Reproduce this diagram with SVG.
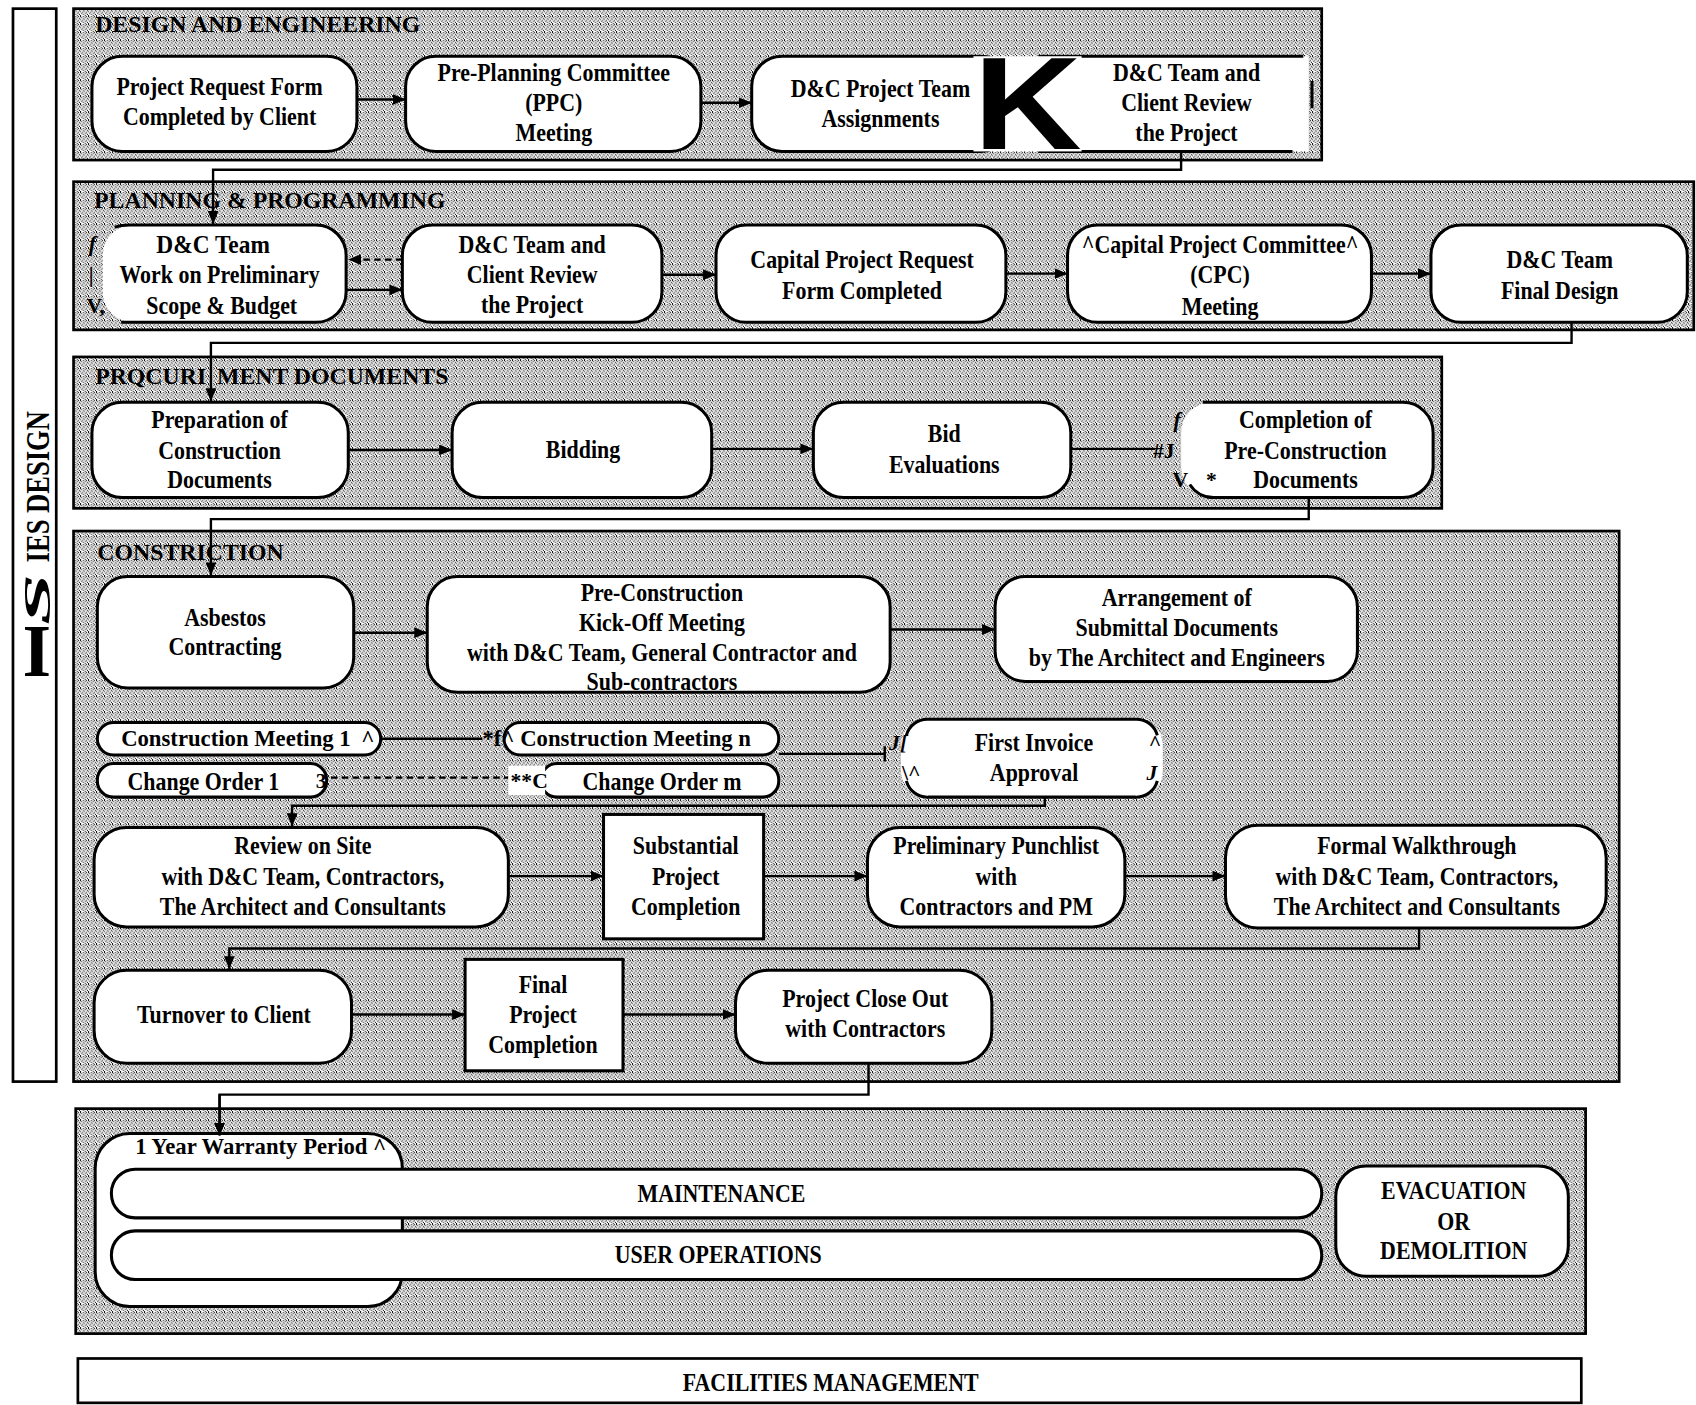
<svg xmlns="http://www.w3.org/2000/svg" width="1696" height="1405" viewBox="0 0 1696 1405">
<defs>
<pattern id="stip" width="8" height="8" patternUnits="userSpaceOnUse" patternTransform="scale(0.92456)">
<rect width="8" height="8" fill="#fff"/>
<path fill="#000" d="M0,0h1v1h-1z M3,0h1v1h-1z M6,0h1v1h-1z M1,1h1v1h-1z M5,1h1v1h-1z M3,2h1v1h-1z M7,2h1v1h-1z M0,3h1v1h-1z M4,3h1v1h-1z M2,4h1v1h-1z M6,4h1v1h-1z M1,5h1v1h-1z M5,5h1v1h-1z M3,6h1v1h-1z M7,6h1v1h-1z M0,7h1v1h-1z M5,7h1v1h-1z"/>
</pattern>
<marker id="ah" markerUnits="userSpaceOnUse" markerWidth="13" markerHeight="10" refX="12" refY="5" orient="auto">
<path d="M0,0 L12,5 L0,10 z" fill="#000"/>
</marker>
<style>
.sec{fill:url(#stip);stroke:#000;stroke-width:2.5}
.nd{fill:#fff;stroke:#000;stroke-width:2.8}
.wf{fill:#fff;stroke:none}
.ol{fill:none;stroke:#000;stroke-width:2.8}
.t{font-family:"Liberation Serif","Times New Roman",serif;font-weight:bold;font-size:22.5px;text-anchor:middle;fill:#000;transform-box:fill-box;transform-origin:center;transform:scaleX(0.9)}
.ti{font-family:"Liberation Serif","Times New Roman",serif;font-weight:bold;font-size:20px;fill:#000}
.st{font-family:"Liberation Serif","Times New Roman",serif;font-weight:bold;font-size:22px;fill:#000}
.a{font-family:"Liberation Serif","Times New Roman",serif;font-weight:bold;font-style:italic;font-size:20px;fill:#000}
.c{fill:none;stroke:#000;stroke-width:2.2}
.ca{fill:none;stroke:#000;stroke-width:2.2;marker-end:url(#ah)}
.cd{fill:none;stroke:#000;stroke-width:2.2;stroke-dasharray:6 4}
</style>
</defs>
<rect width="1696" height="1405" fill="#fff"/>
<g transform="scale(1.0816)">

<g id="sidebar">
<rect x="12" y="8" width="40" height="992" fill="#fff" stroke="#000" stroke-width="2.5"/>
<text class="ti" transform="translate(45,520) rotate(-90)" style="font-size:32px" textLength="140" lengthAdjust="spacingAndGlyphs">IES DESIGN</text>
<text class="ti" transform="translate(46,578) rotate(-90) scale(2.4,1)" style="font-size:36px;font-style:italic">S</text>
<text class="ti" x="34" y="625" style="font-size:68px;text-anchor:middle">I</text>
</g>

<g id="sec-design">
<rect class="sec" x="68" y="8" width="1154" height="140"/>
<text class="st" x="88" y="30">DESIGN AND ENGINEERING</text>
</g>
<g id="sec-planning">
<rect class="sec" x="68" y="168" width="1498" height="137"/>
<text class="st" x="87" y="192">PLANNING &amp; PROGRAMMING</text>
</g>
<g id="sec-procurement">
<rect class="sec" x="68" y="330" width="1265" height="140"/>
<text class="st" x="88" y="355">PRQCURI<tspan dx="10">MENT DOCUMENTS</tspan></text>
</g>
<g id="sec-construction">
<rect class="sec" x="68" y="491" width="1429" height="509"/>
<text class="st" x="90" y="518">CONSTRICTION</text>
</g>
<g id="sec-operations">
<rect class="sec" x="70" y="1025" width="1396" height="208"/>
</g>

<g id="connectors">
<path class="ca" d="M1092,140 V157 H197 V207"/>
<path class="ca" d="M1453,298 V317 H195 V371"/>
<path class="ca" d="M1210,460 V480 H195 V532"/>
<path class="ca" d="M966,737 V745 H270 V764"/>
<path class="ca" d="M1312,858 V877 H212 V896"/>
<path class="ca" d="M803,983 V1012 H203 V1050"/>
<path class="ca" d="M330,92 H375"/>
<path class="ca" d="M648,95 H695"/>
<path class="cd" d="M372,240 H322" marker-end="url(#ah)"/>
<path class="ca" d="M320,268 H372"/>
<path class="ca" d="M612,254 H662"/>
<path class="ca" d="M930,253 H987"/>
<path class="ca" d="M1268,253 H1323"/>
<path class="ca" d="M322,416 H418"/>
<path class="ca" d="M658,415 H752"/>
<path class="c" d="M990,415 H1068"/>
<path class="ca" d="M327,585 H395"/>
<path class="ca" d="M823,582 H920"/>
<path class="c" d="M352,683 H446" stroke-width="3"/>
<path class="cd" d="M306,719 H470"/>
<path class="c" d="M720,697 H818 M818,690 V704"/>
<path class="ca" d="M470,810 H558"/>
<path class="ca" d="M706,810 H802"/>
<path class="ca" d="M1040,810 H1133"/>
<path class="ca" d="M325,938 H430"/>
<path class="ca" d="M576,938 H680"/>
</g>

<g id="n-project-request">
<rect class="nd" x="85" y="52" width="245" height="88" rx="28"/>
<text class="t" x="203" y="88">Project Request Form</text>
<text class="t" x="203" y="116">Completed by Client</text>
</g>
<g id="n-ppc">
<rect class="nd" x="375" y="52" width="273" height="88" rx="28"/>
<text class="t" x="512" y="75">Pre-Planning Committee</text>
<text class="t" x="512" y="103">(PPC)</text>
<text class="t" x="512" y="130">Meeting</text>
</g>
<g id="n-team-assign">
<rect class="nd" x="695" y="52" width="240" height="88" rx="28"/>
<text class="t" x="814" y="90">D&amp;C Project Team</text>
<text class="t" x="814" y="117">Assignments</text>
</g>
<g id="n-client-review-1">
<rect class="wf" x="960" y="52" width="250" height="88"/>
<path class="ol" d="M960,52 H1205 M960,140 H1195 M1213,75 V100"/>
<text class="t" x="1097" y="75">D&amp;C Team and</text>
<text class="t" x="1097" y="103">Client Review</text>
<text class="t" x="1097" y="130">the Project</text>
</g>
<g id="k-mark">
<rect class="wf" x="900" y="52" width="100" height="88"/>
<text x="900" y="138" font-family="Liberation Sans, Arial, sans-serif" font-weight="bold" font-size="122" textLength="100" lengthAdjust="spacingAndGlyphs">K</text>
</g>

<g id="n-prelim-scope">
<rect class="wf" x="95" y="208" width="225" height="90" rx="28"/>
<path class="ol" d="M106,210 Q112,208 120,208 H292 A28,28 0 0 1 320,236 V270 A28,28 0 0 1 292,298 H112"/>
<text class="a" x="82" y="232">f</text>
<text class="ti" x="82" y="261">|</text>
<text class="ti" x="80" y="289">V,</text>
<text class="t" x="197" y="234" style="font-size:24px">D&amp;C Team</text>
<text class="t" x="203" y="262">Work on Preliminary</text>
<text class="t" x="205" y="290">Scope &amp; Budget</text>
</g>
<g id="n-client-review-2">
<rect class="nd" x="372" y="208" width="240" height="90" rx="28"/>
<text class="t" x="492" y="234">D&amp;C Team and</text>
<text class="t" x="492" y="262">Client Review</text>
<text class="t" x="492" y="289">the Project</text>
</g>
<g id="n-cpr-form">
<rect class="nd" x="662" y="208" width="268" height="90" rx="28"/>
<text class="t" x="797" y="248">Capital Project Request</text>
<text class="t" x="797" y="276">Form Completed</text>
</g>
<g id="n-cpc">
<rect class="nd" x="987" y="208" width="281" height="90" rx="28"/>
<text class="t" x="1128" y="234">^Capital Project Committee^</text>
<text class="t" x="1128" y="262">(CPC)</text>
<text class="t" x="1128" y="291">Meeting</text>
</g>
<g id="n-final-design">
<rect class="nd" x="1323" y="208" width="237" height="90" rx="28"/>
<text class="t" x="1442" y="248">D&amp;C Team</text>
<text class="t" x="1442" y="276">Final Design</text>
</g>

<g id="n-prep-docs">
<rect class="nd" x="85" y="372" width="237" height="88" rx="28"/>
<text class="t" x="203" y="396">Preparation of</text>
<text class="t" x="203" y="424">Construction</text>
<text class="t" x="203" y="451">Documents</text>
</g>
<g id="n-bidding">
<rect class="nd" x="418" y="372" width="240" height="88" rx="28"/>
<text class="t" x="539" y="423">Bidding</text>
</g>
<g id="n-bid-eval">
<rect class="nd" x="752" y="372" width="238" height="88" rx="28"/>
<text class="t" x="873" y="409">Bid</text>
<text class="t" x="873" y="437">Evaluations</text>
</g>
<g id="n-completion-precon">
<rect class="wf" x="1092" y="372" width="233" height="88" rx="28"/>
<path class="ol" d="M1112,372 H1297 A28,28 0 0 1 1325,400 V432 A28,28 0 0 1 1297,460 H1122 A26,26 0 0 1 1100,448"/>
<text class="a" x="1085" y="395">f</text>
<text class="ti" x="1066" y="423">#J</text>
<text class="ti" x="1084" y="450">V</text>
<text class="ti" x="1115" y="450">*</text>
<text class="t" x="1207" y="396">Completion of</text>
<text class="t" x="1207" y="424">Pre-Construction</text>
<text class="t" x="1207" y="451">Documents</text>
</g>

<g id="n-asbestos">
<rect class="nd" x="90" y="533" width="237" height="103" rx="28"/>
<text class="t" x="208" y="579">Asbestos</text>
<text class="t" x="208" y="606">Contracting</text>
</g>
<g id="n-kickoff">
<rect class="nd" x="395" y="533" width="428" height="107" rx="28"/>
<text class="t" x="612" y="556">Pre-Construction</text>
<text class="t" x="612" y="583">Kick-Off Meeting</text>
<text class="t" x="612" y="611">with D&amp;C Team, General Contractor and</text>
<text class="t" x="612" y="638">Sub-contractors</text>
</g>
<g id="n-submittal">
<rect class="nd" x="920" y="533" width="335" height="97" rx="28"/>
<text class="t" x="1088" y="560">Arrangement of</text>
<text class="t" x="1088" y="588">Submittal Documents</text>
<text class="t" x="1088" y="616">by The Architect and Engineers</text>
</g>
<g id="n-meeting-1">
<rect class="nd" x="90" y="668" width="262" height="30" rx="15"/>
<text class="ti" x="112" y="690" style="font-size:21px">Construction Meeting 1<tspan x="334">^</tspan></text>
</g>
<g id="n-meeting-n">
<rect class="nd" x="466" y="668" width="254" height="30" rx="15"/>
<text class="ti" x="446" y="690" style="font-size:21px">*f^ Construction Meeting n</text>
</g>
<g id="n-change-1">
<rect class="nd" x="90" y="706" width="212" height="31" rx="15"/>
<text class="t" x="188" y="730">Change Order 1</text>
<text class="ti" x="292" y="729">3</text>
</g>
<g id="n-change-m">
<rect class="nd" x="500" y="706" width="220" height="31" rx="15"/>
<rect class="wf" x="470" y="708" width="34" height="27"/>
<text class="ti" x="472" y="729">**C</text>
<text class="t" x="612" y="730">Change Order m</text>
</g>
<g id="n-first-invoice">
<rect class="wf" x="833" y="665" width="242" height="72" rx="24"/>
<path class="ol" d="M838,680 A20,20 0 0 1 858,665 H1050 A20,20 0 0 1 1070,680 M838,722 A20,20 0 0 0 858,737 H1050 A20,20 0 0 0 1070,722"/>
<text class="a" x="822" y="693">J[</text>
<text class="ti" x="834" y="721">\^</text>
<text class="ti" x="1062" y="693">^</text>
<text class="a" x="1060" y="721">J</text>
<text class="t" x="956" y="694">First Invoice</text>
<text class="t" x="956" y="722">Approval</text>
</g>

<g id="n-review-site">
<rect class="nd" x="87" y="765" width="383" height="92" rx="30"/>
<text class="t" x="280" y="790">Review on Site</text>
<text class="t" x="280" y="818">with D&amp;C Team, Contractors,</text>
<text class="t" x="280" y="846">The Architect and Consultants</text>
</g>
<g id="n-substantial">
<rect class="nd" x="558" y="753" width="148" height="115"/>
<text class="t" x="634" y="790">Substantial</text>
<text class="t" x="634" y="818">Project</text>
<text class="t" x="634" y="846">Completion</text>
</g>
<g id="n-punchlist">
<rect class="nd" x="802" y="765" width="238" height="92" rx="30"/>
<text class="t" x="921" y="790">Preliminary Punchlist</text>
<text class="t" x="921" y="818">with</text>
<text class="t" x="921" y="846">Contractors and PM</text>
</g>
<g id="n-walkthrough">
<rect class="nd" x="1133" y="763" width="352" height="95" rx="30"/>
<text class="t" x="1310" y="790">Formal Walkthrough</text>
<text class="t" x="1310" y="818">with D&amp;C Team, Contractors,</text>
<text class="t" x="1310" y="846">The Architect and Consultants</text>
</g>

<g id="n-turnover">
<rect class="nd" x="87" y="897" width="238" height="86" rx="30"/>
<text class="t" x="207" y="946">Turnover to Client</text>
</g>
<g id="n-final-completion">
<rect class="nd" x="430" y="887" width="146" height="103"/>
<text class="t" x="502" y="918">Final</text>
<text class="t" x="502" y="946">Project</text>
<text class="t" x="502" y="974">Completion</text>
</g>
<g id="n-close-out">
<rect class="nd" x="680" y="897" width="237" height="86" rx="30"/>
<text class="t" x="800" y="931">Project Close Out</text>
<text class="t" x="800" y="959">with  Contractors</text>
</g>

<g id="n-warranty">
<rect class="nd" x="88" y="1048" width="284" height="160" rx="32"/>
<text class="ti" x="125" y="1067" style="font-size:21px">1 Year Warranty Period ^</text>
</g>
<g id="n-maintenance">
<rect class="nd" x="103" y="1081" width="1119" height="45" rx="22"/>
<text class="t" x="667" y="1111">MAINTENANCE</text>
</g>
<g id="n-user-ops">
<rect class="nd" x="103" y="1138" width="1119" height="45" rx="22"/>
<text class="t" x="664" y="1168">USER OPERATIONS</text>
</g>
<g id="n-evacuation">
<rect class="nd" x="1235" y="1078" width="215" height="102" rx="28"/>
<text class="t" x="1344" y="1109">EVACUATION</text>
<text class="t" x="1344" y="1137">OR</text>
<text class="t" x="1344" y="1164">DEMOLITION</text>
</g>

<g id="n-facilities">
<rect x="72" y="1256" width="1390" height="41" fill="#fff" stroke="#000" stroke-width="2.5"/>
<text class="t" x="768" y="1286">FACILITIES MANAGEMENT</text>
</g>
<path class="ca" d="M203,1012 V1050"/>
</g>
</svg>
